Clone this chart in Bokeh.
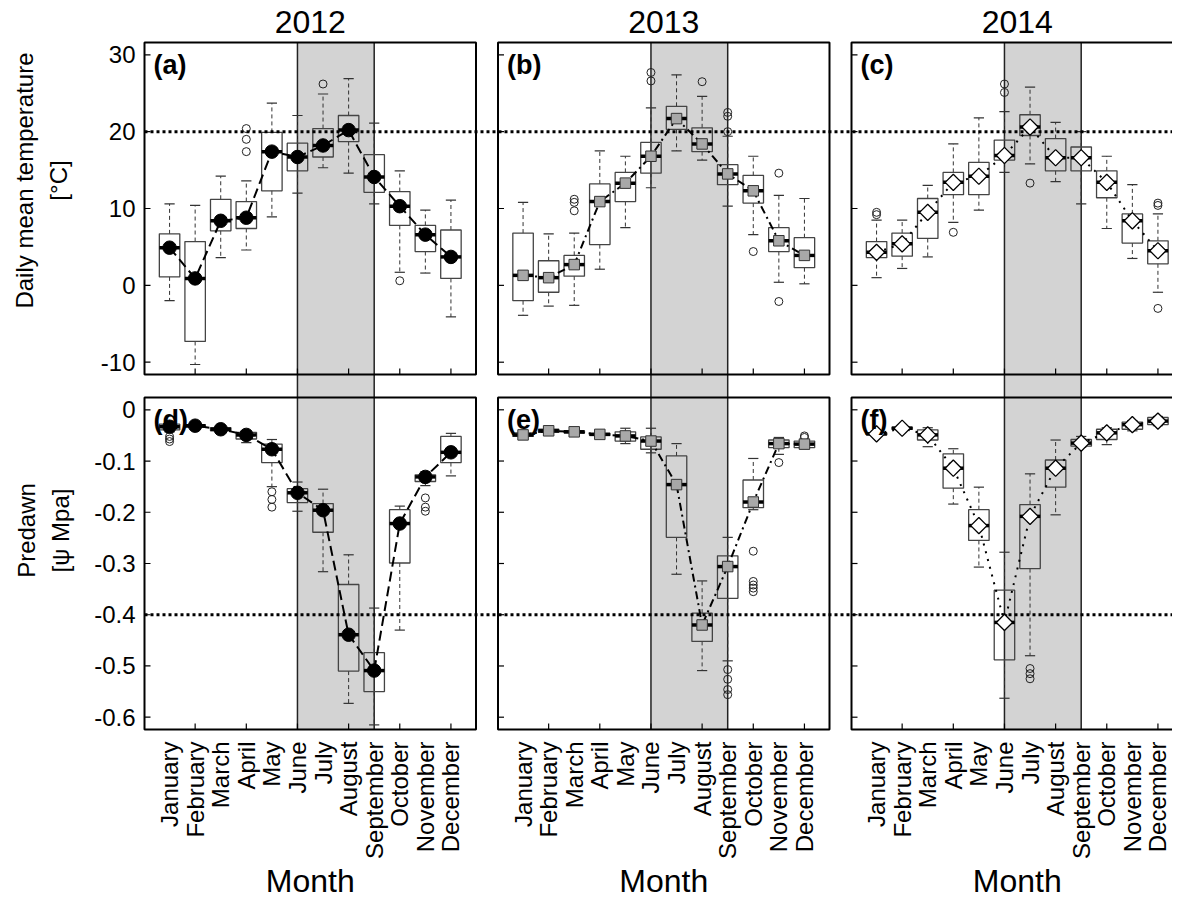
import math
from bokeh.plotting import figure
from bokeh.models import Range1d
from bokeh.core.properties import value
from bokeh.embed import file_html
from bokeh.resources import INLINE

# ---------------- data ----------------
MONTHS = ["January", "February", "March", "April", "May", "June", "July",
          "August", "September", "October", "November", "December"]
MONTH_NUM = list(range(1, 13))
YEARS = ["2012", "2013", "2014"]
PANEL_TAGS = [["(a)", "(b)", "(c)"], ["(d)", "(e)", "(f)"]]
SUMMER = [6, 9]                       # June .. September shading
X_TICKS = [2, 4, 6, 8, 10, 12]
TEMP_LIM = [-10, 30]
PSI_LIM = [-0.6, 0.0]
TEMP_TICKS = [-10, 0, 10, 20, 30]
TEMP_TICK_LABELS = ["-10", "0", "10", "20", "30"]
PSI_TICKS = [0.0, -0.1, -0.2, -0.3, -0.4, -0.5, -0.6]
PSI_TICK_LABELS = ["0", "-0.1", "-0.2", "-0.3", "-0.4", "-0.5", "-0.6"]
TEMP_REF = 20
PSI_REF = -0.4
TEMP_TITLE = ["Daily mean temperature", "[°C]"]
PSI_TITLE = ["Predawn", "[ψ Mpa]"]
X_TITLE = "Month"

# Temperature 2012
T12_MEAN = [4.9, 0.9, 8.4, 8.8, 17.4, 16.7, 18.2, 20.2, 14.1, 10.3, 6.6, 3.7]
T12_MED = [4.9, 0.9, 8.4, 8.8, 17.4, 16.7, 18.2, 20.2, 14.1, 10.3, 6.6, 3.7]
T12_Q1 = [1.1, -7.3, 7.1, 7.4, 12.3, 14.9, 16.7, 18.7, 12.1, 7.8, 4.4, 0.9]
T12_Q3 = [6.7, 5.7, 11.2, 10.9, 19.9, 18.5, 20.4, 22.1, 17.0, 12.2, 7.8, 7.2]
T12_LO = [-2.0, -10.3, 3.6, 4.6, 8.9, 12.0, 15.3, 14.6, 10.6, 1.7, 1.6, -4.1]
T12_HI = [10.6, 10.4, 14.2, 13.6, 23.7, 22.1, 24.9, 26.9, 21.1, 14.9, 9.8, 11.1]
T12_OUT_M = [4, 4, 4, 7, 10]
T12_OUT_V = [20.4, 19.0, 17.4, 26.2, 0.6]

# Temperature 2013
T13_MEAN = [1.3, 1.0, 2.7, 10.9, 13.3, 16.8, 21.7, 18.4, 14.5, 12.3, 5.8, 3.9]
T13_MED = [1.3, 1.0, 2.7, 10.9, 13.3, 16.8, 21.7, 18.4, 14.5, 12.3, 5.8, 3.9]
T13_Q1 = [-2.0, -0.9, 1.2, 5.3, 10.9, 14.6, 20.3, 17.4, 13.1, 10.7, 4.4, 2.3]
T13_Q3 = [6.8, 3.2, 3.9, 13.2, 14.7, 18.6, 23.3, 20.5, 15.7, 14.3, 7.5, 6.2]
T13_LO = [-3.9, -2.7, -2.6, 2.1, 7.5, 12.7, 17.5, 16.3, 10.3, 6.6, 0.4, 0.2]
T13_HI = [10.8, 6.7, 6.8, 17.5, 16.8, 23.1, 27.4, 24.6, 19.4, 16.8, 11.7, 11.3]
T13_OUT_M = [3, 3, 3, 6, 6, 8, 9, 9, 9, 10, 11, 11]
T13_OUT_V = [11.2, 10.8, 9.7, 27.7, 26.6, 26.5, 22.5, 22.0, 20.0, 4.4, 14.6, -2.1]

# Temperature 2014
T14_MEAN = [4.3, 5.4, 9.5, 13.4, 14.2, 16.9, 20.6, 16.6, 16.6, 13.4, 8.4, 4.5]
T14_MED = [4.3, 5.4, 9.5, 13.4, 14.2, 16.9, 20.6, 16.6, 16.6, 13.4, 8.4, 4.5]
T14_Q1 = [3.6, 3.8, 6.1, 11.8, 11.8, 16.3, 19.5, 14.9, 14.9, 11.4, 5.5, 2.8]
T14_Q3 = [5.7, 6.8, 11.3, 14.7, 16.0, 18.9, 22.2, 19.1, 18.0, 14.9, 9.3, 5.8]
T14_LO = [1.0, 2.2, 3.7, 8.2, 9.8, 14.7, 15.8, 13.5, 10.6, 7.4, 3.5, -0.9]
T14_HI = [8.5, 8.5, 13.0, 18.4, 21.8, 22.6, 25.8, 21.2, 20.0, 16.8, 13.1, 9.3]
T14_OUT_M = [1, 1, 4, 6, 6, 7, 12, 12, 12]
T14_OUT_V = [9.5, 9.2, 6.9, 26.2, 25.1, 13.3, 10.7, 10.4, -3.0]

# Predawn water potential 2012
P12_MEAN = [-0.033, -0.031, -0.038, -0.049, -0.077, -0.162, -0.196, -0.439, -0.509, -0.222, -0.131, -0.083]
P12_MED = [-0.033, -0.031, -0.038, -0.049, -0.077, -0.162, -0.196, -0.439, -0.509, -0.222, -0.131, -0.083]
P12_Q1 = [-0.039, -0.034, -0.041, -0.057, -0.103, -0.181, -0.239, -0.510, -0.550, -0.299, -0.140, -0.103]
P12_Q3 = [-0.028, -0.029, -0.035, -0.044, -0.067, -0.154, -0.183, -0.341, -0.474, -0.195, -0.127, -0.052]
P12_LO = [-0.043, -0.036, -0.043, -0.064, -0.150, -0.198, -0.316, -0.573, -0.615, -0.430, -0.148, -0.129]
P12_HI = [-0.026, -0.028, -0.034, -0.042, -0.058, -0.141, -0.155, -0.283, -0.387, -0.188, -0.121, -0.046]
P12_OUT_M = [1, 1, 1, 5, 5, 5, 11, 11, 11]
P12_OUT_V = [-0.052, -0.057, -0.062, -0.160, -0.175, -0.190, -0.172, -0.190, -0.198]

# Predawn water potential 2013
P13_MEAN = [-0.049, -0.041, -0.043, -0.048, -0.051, -0.061, -0.146, -0.420, -0.306, -0.180, -0.066, -0.067]
P13_MED = [-0.049, -0.041, -0.043, -0.048, -0.051, -0.061, -0.146, -0.420, -0.306, -0.180, -0.066, -0.067]
P13_Q1 = [-0.052, -0.044, -0.045, -0.050, -0.061, -0.077, -0.249, -0.452, -0.368, -0.191, -0.074, -0.074]
P13_Q3 = [-0.045, -0.038, -0.041, -0.046, -0.043, -0.053, -0.090, -0.397, -0.285, -0.137, -0.059, -0.061]
P13_LO = [-0.054, -0.046, -0.047, -0.052, -0.066, -0.084, -0.321, -0.509, -0.490, -0.195, -0.087, -0.076]
P13_HI = [-0.043, -0.036, -0.039, -0.044, -0.036, -0.036, -0.066, -0.334, -0.249, -0.095, -0.054, -0.058]
P13_OUT_M = [9, 9, 9, 9, 10, 10, 10, 10, 10, 11, 12, 12]
P13_OUT_V = [-0.507, -0.526, -0.546, -0.556, -0.276, -0.335, -0.342, -0.348, -0.355, -0.103, -0.051, -0.054]

# Predawn water potential 2014
P14_MEAN = [-0.047, -0.036, -0.049, -0.114, -0.226, -0.415, -0.208, -0.114, -0.065, -0.045, -0.029, -0.022]
P14_MED = [-0.047, -0.036, -0.049, -0.114, -0.226, -0.415, -0.208, -0.114, -0.065, -0.045, -0.029, -0.022]
P14_Q1 = [-0.049, -0.038, -0.059, -0.153, -0.255, -0.488, -0.310, -0.151, -0.071, -0.058, -0.038, -0.029]
P14_Q3 = [-0.045, -0.034, -0.039, -0.086, -0.195, -0.352, -0.185, -0.098, -0.058, -0.038, -0.024, -0.015]
P14_LO = [-0.050, -0.039, -0.072, -0.184, -0.307, -0.563, -0.480, -0.205, -0.073, -0.068, -0.041, -0.031]
P14_HI = [-0.044, -0.033, -0.035, -0.076, -0.151, -0.278, -0.125, -0.059, -0.052, -0.035, -0.021, -0.013]
P14_OUT_M = [7, 7, 7]
P14_OUT_V = [-0.505, -0.515, -0.525]

PANELS = [
    [(T12_Q1, T12_MED, T12_Q3, T12_LO, T12_HI, T12_MEAN, T12_OUT_M, T12_OUT_V),
     (T13_Q1, T13_MED, T13_Q3, T13_LO, T13_HI, T13_MEAN, T13_OUT_M, T13_OUT_V),
     (T14_Q1, T14_MED, T14_Q3, T14_LO, T14_HI, T14_MEAN, T14_OUT_M, T14_OUT_V)],
    [(P12_Q1, P12_MED, P12_Q3, P12_LO, P12_HI, P12_MEAN, P12_OUT_M, P12_OUT_V),
     (P13_Q1, P13_MED, P13_Q3, P13_LO, P13_HI, P13_MEAN, P13_OUT_M, P13_OUT_V),
     (P14_Q1, P14_MED, P14_Q3, P14_LO, P14_HI, P14_MEAN, P14_OUT_M, P14_OUT_V)],
]

# ---------------- layout / style ----------------
FONT = value("Liberation Sans")
W, H = 1172, 901
COL_LEFT = [144.0, 497.5, 851.0]
PANEL_W = 331.5
ROW_TOP = [42.0, 397.0]
PANEL_H = 332.0
TICK_PX = 6.0
BOX_HALF = 0.4
CAP_HALF = 0.2

YEAR_STYLE = [
    dict(marker="circle", size=13.5, fill="black", line="black", lw=1, angle=0.0, dash="10 5"),
    dict(marker="square", size=10.5, fill="#a8a8a8", line="#333333", lw=1, angle=0.0, dash="8 4 2 4"),
    dict(marker="square", size=11.5, fill="white", line="black", lw=1.3, angle=math.pi / 4, dash="2 6"),
]


def ext(lim):
    d = (lim[1] - lim[0]) * 0.04
    return (lim[0] - d, lim[1] + d)


XLIM = ext([0.5, 12.5])
ROW_LIMS = [ext(TEMP_LIM), ext(PSI_LIM)]
xscale = PANEL_W / (XLIM[1] - XLIM[0])

p = figure(width=W, height=H, x_range=Range1d(0, W), y_range=Range1d(H, 0),
           x_axis_type=None, y_axis_type=None, min_border=0, title=None,
           toolbar_location=None, output_backend="svg")
p.outline_line_color = None
p.background_fill_color = "white"
p.border_fill_color = "white"

xr = {}
for k in range(3):
    start = XLIM[0] - COL_LEFT[k] / xscale
    xr[f"c{k}"] = Range1d(start, start + W / xscale)
yr = {}
yscales = []
for r, lim in enumerate(ROW_LIMS):
    ks = PANEL_H / (lim[1] - lim[0])
    yscales.append(ks)
    end = lim[1] + ROW_TOP[r] / ks
    yr[f"r{r}"] = Range1d(end - H / ks, end)
p.extra_x_ranges = xr
p.extra_y_ranges = yr

band_top = ROW_TOP[0]
band_bottom = ROW_TOP[1] + PANEL_H

# summer shading + its border lines (span both rows, through the gap)
for k in range(3):
    cx = f"c{k}"
    p.quad(left=[SUMMER[0]], right=[SUMMER[1]], top=[band_top], bottom=[band_bottom],
           x_range_name=cx, fill_color="#d3d3d3", line_color=None)
    p.segment(x0=SUMMER, x1=SUMMER, y0=[band_top] * 2, y1=[band_bottom] * 2,
              x_range_name=cx, line_color="#222222", line_width=1.5)

# boxplots
for r in range(2):
    ry = f"r{r}"
    for k in range(3):
        cx = f"c{k}"
        q1, med, q3, lo, hi, mean, om, ov = PANELS[r][k]
        m = MONTH_NUM
        p.segment(x0=m, x1=m, y0=q3, y1=hi, x_range_name=cx, y_range_name=ry,
                  line_color="#333333", line_width=1, line_dash="4 3")
        p.segment(x0=m, x1=m, y0=q1, y1=lo, x_range_name=cx, y_range_name=ry,
                  line_color="#333333", line_width=1, line_dash="4 3")
        p.segment(x0=[v - CAP_HALF for v in m], x1=[v + CAP_HALF for v in m], y0=hi, y1=hi,
                  x_range_name=cx, y_range_name=ry, line_color="#333333", line_width=1.2)
        p.segment(x0=[v - CAP_HALF for v in m], x1=[v + CAP_HALF for v in m], y0=lo, y1=lo,
                  x_range_name=cx, y_range_name=ry, line_color="#333333", line_width=1.2)
        p.quad(left=[v - BOX_HALF for v in m], right=[v + BOX_HALF for v in m], bottom=q1, top=q3,
               x_range_name=cx, y_range_name=ry, fill_color=None, line_color="#444444", line_width=1.3)
        p.segment(x0=[v - BOX_HALF for v in m], x1=[v + BOX_HALF for v in m], y0=med, y1=med,
                  x_range_name=cx, y_range_name=ry, line_color="black", line_width=3.5)
        p.scatter(x=om, y=ov, marker="circle", size=8, fill_color=None, line_color="#222222",
                  line_width=1, x_range_name=cx, y_range_name=ry)

# reference dotted lines (run from the first panel to the right edge)
p.segment(x0=[COL_LEFT[0]], x1=[W], y0=[TEMP_REF], y1=[TEMP_REF], y_range_name="r0",
          line_color="black", line_width=3, line_dash="3 3")
p.segment(x0=[COL_LEFT[0]], x1=[W], y0=[PSI_REF], y1=[PSI_REF], y_range_name="r1",
          line_color="black", line_width=3, line_dash="3 3")

# monthly means
for r in range(2):
    ry = f"r{r}"
    for k in range(3):
        cx = f"c{k}"
        st = YEAR_STYLE[k]
        mean = PANELS[r][k][5]
        p.line(x=MONTH_NUM, y=mean, x_range_name=cx, y_range_name=ry, line_color="black",
               line_width=2, line_dash=st["dash"])
        p.scatter(x=MONTH_NUM, y=mean, marker=st["marker"], size=st["size"], angle=st["angle"],
                  fill_color=st["fill"], line_color=st["line"], line_width=st["lw"],
                  x_range_name=cx, y_range_name=ry)

# frames, ticks, labels
for r in range(2):
    ry = f"r{r}"
    lim = ROW_LIMS[r]
    ks = yscales[r]
    ticks = TEMP_TICKS if r == 0 else PSI_TICKS
    tlabels = TEMP_TICK_LABELS if r == 0 else PSI_TICK_LABELS
    for k in range(3):
        cx = f"c{k}"
        p.quad(left=[XLIM[0]], right=[XLIM[1]], bottom=[lim[0]], top=[lim[1]],
               x_range_name=cx, y_range_name=ry, fill_color=None, line_color="black", line_width=2)
        p.segment(x0=[XLIM[0]] * len(ticks), x1=[XLIM[0] + TICK_PX / xscale] * len(ticks),
                  y0=ticks, y1=ticks, x_range_name=cx, y_range_name=ry,
                  line_color="black", line_width=1.2)
        p.segment(x0=X_TICKS, x1=X_TICKS, y0=[lim[0]] * len(X_TICKS),
                  y1=[lim[0] + TICK_PX / ks] * len(X_TICKS), x_range_name=cx, y_range_name=ry,
                  line_color="black", line_width=1.2)
        p.text(x=[COL_LEFT[k] + 9], y=[ROW_TOP[r] + 22], text=[PANEL_TAGS[r][k]],
               text_font=FONT, text_font_size="27px", text_font_style="bold",
               text_align="left", text_baseline="middle", text_color="black")
    # y tick labels on the first column only
    p.text(x=[COL_LEFT[0] - 9] * len(ticks), y=ticks, text=tlabels, y_range_name=ry,
           text_font=FONT, text_font_size="24px", text_align="right", text_baseline="middle",
           text_color="black")

# month labels, column titles, x titles
for k in range(3):
    cx = f"c{k}"
    p.text(x=MONTH_NUM, y=[ROW_TOP[1] + PANEL_H + 12] * 12, text=MONTHS, angle=math.pi / 2,
           x_range_name=cx, text_font=FONT, text_font_size="24px", text_align="right",
           text_baseline="middle", text_color="black")
    p.text(x=[6.5], y=[21], text=[YEARS[k]], x_range_name=cx, text_font=FONT,
           text_font_size="32px", text_align="center", text_baseline="middle", text_color="black")
    p.text(x=[6.5], y=[880], text=[X_TITLE], x_range_name=cx, text_font=FONT,
           text_font_size="32px", text_align="center", text_baseline="middle", text_color="black")

# y titles
p.text(x=[24, 58], y=[180, 180], text=TEMP_TITLE, angle=math.pi / 2, text_font=FONT,
       text_font_size="24px", text_align="center", text_baseline="middle", text_color="black")
p.text(x=[26, 60], y=[530, 530], text=PSI_TITLE, angle=math.pi / 2, text_font=FONT,
       text_font_size="24px", text_align="center", text_baseline="middle", text_color="black")

open("out.html", "w").write(file_html(p, INLINE))
